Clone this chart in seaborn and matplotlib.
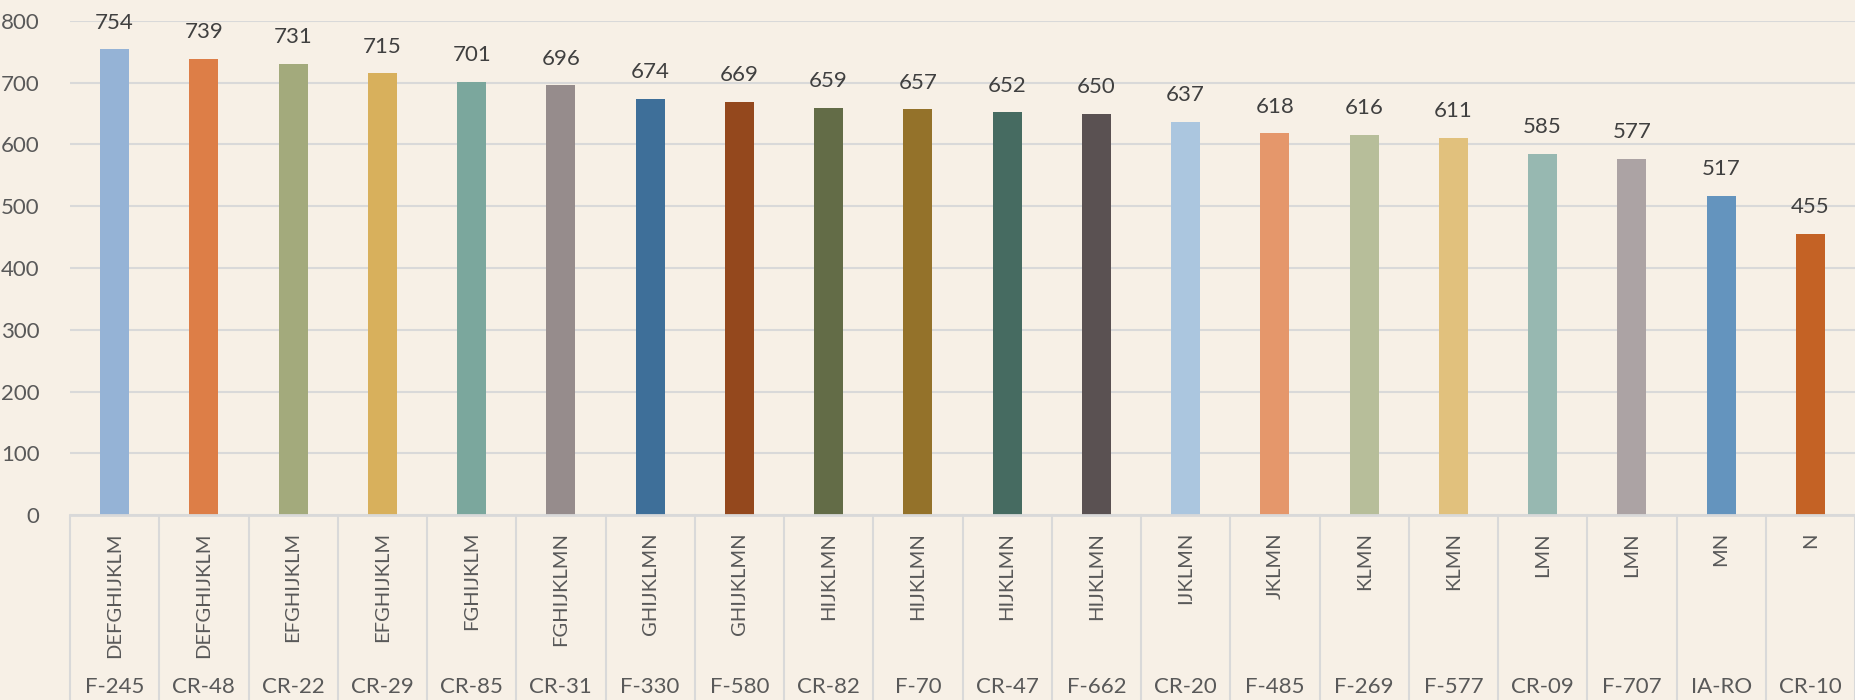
import matplotlib
matplotlib.use('Agg')
import matplotlib.pyplot as plt
import seaborn as sns
import pandas as pd

# data
names = ['F-245', 'CR-48', 'CR-22', 'CR-29', 'CR-85', 'CR-31', 'F-330', 'F-580', 'CR-82', 'F-70',
         'CR-47', 'F-662', 'CR-20', 'F-485', 'F-269', 'F-577', 'CR-09', 'F-707', 'IA-RO', 'CR-10']
groups = ['DEFGHIJKLM', 'DEFGHIJKLM', 'EFGHIJKLM', 'EFGHIJKLM', 'FGHIJKLM', 'FGHIJKLMN', 'GHIJKLMN',
          'GHIJKLMN', 'HIJKLMN', 'HIJKLMN', 'HIJKLMN', 'HIJKLMN', 'IJKLMN', 'JKLMN', 'KLMN', 'KLMN',
          'LMN', 'LMN', 'MN', 'N']
values = [754, 739, 731, 715, 701, 696, 674, 669, 659, 657, 652, 650, 637, 618, 616, 611, 585, 577, 517, 455]
colors = ['#95B3D6', '#DD7E47', '#A3AA7C', '#D8B05C', '#7BA79D', '#968C8C', '#3E6F99', '#94481D',
          '#636C47', '#94722A', '#466B61', '#5A5152', '#ABC6DF', '#E5976B', '#B7BE9A', '#E1C17D',
          '#97B8B1', '#ACA3A4', '#6494BE', '#C46225']

df = pd.DataFrame({'name': names, 'group': groups, 'value': values})

bg = '#F7F0E6'
grid = '#D9D9D9'
txt = '#595959'

sns.set_style('white')
plt.rcParams['font.family'] = ['Lato', 'DejaVu Sans']

W, H = 1855, 700
fig = plt.figure(figsize=(W / 100, H / 100), dpi=100, facecolor=bg)
left, right, top, base = 70, 1855, 21, 515
ax = fig.add_axes([left / W, (H - base) / H, (right - left) / W, (base - top) / H])
ax.set_facecolor(bg)

sns.barplot(data=df, x='name', y='value', hue='name', palette=colors, legend=False,
            width=0.325, saturation=1, linewidth=0, edgecolor='none', ax=ax, zorder=3)

ax.set_xlim(-0.5, len(names) - 0.5)
ax.set_ylim(0, 800)
ax.set_yticks(range(0, 801, 100))
ax.yaxis.grid(True, color=grid, linewidth=1.5, zorder=0)
ax.set_axisbelow(True)
for s in ax.spines.values():
    s.set_visible(False)
ax.tick_params(axis='y', length=0, pad=22, labelsize=16, labelcolor=txt)
ax.set_xticks([])
ax.set_xlabel('')
ax.set_ylabel('')
ax.axhline(0, color=grid, linewidth=2, zorder=4, clip_on=False)

# value labels
for i, v in enumerate(values):
    ax.annotate(str(v), (i, v), xytext=(0, 12), textcoords='offset points',
                ha='center', va='bottom', fontsize=16, color='#404040')

# two-level category axis
tr = ax.get_xaxis_transform()
ah = base - top
depth = (H - base) / ah
for b in range(len(names) + 1):
    ax.plot([b - 0.5, b - 0.5], [0, -depth], transform=tr, color=grid, linewidth=1.5, clip_on=False)
for i, (g, n) in enumerate(zip(groups, names)):
    ax.text(i, -17 / ah, g, transform=tr, rotation=90, ha='center', va='top',
            fontsize=14.5, color=txt)
    ax.text(i, -172 / ah, n, transform=tr, ha='center', va='center', fontsize=16, color=txt)

fig.savefig('out.png', dpi=100, facecolor=bg)
